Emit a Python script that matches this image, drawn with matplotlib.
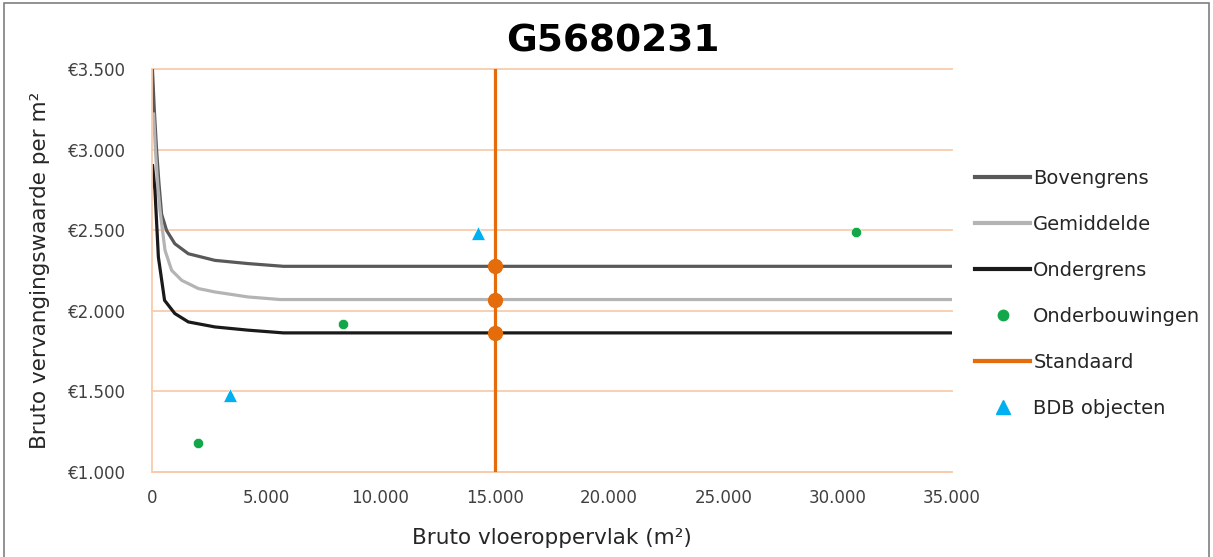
import matplotlib.pyplot as plt
from matplotlib import font_manager
from matplotlib.patches import Rectangle
from matplotlib.lines import Line2D
from matplotlib.ticker import FuncFormatter

# %% DATA
bov_x = [20, 100, 200, 300, 420, 640, 1000, 1590, 2750, 4200, 5750, 15000, 35000]
bovengrens = [3500, 3250, 3000, 2800, 2600, 2498, 2416, 2354, 2313, 2293, 2276, 2276, 2276]

gem_x = [70, 150, 250, 350, 570, 860, 1300, 2030, 2750, 4200, 5600, 15000, 35000]
gemiddelde = [3221, 3000, 2780, 2623, 2375, 2251, 2189, 2138, 2117, 2086, 2070, 2070, 2070]

ond_x = [26, 130, 280, 550, 1000, 1590, 2750, 4200, 5750, 15000, 35000]
ondergrens = [2900, 2747, 2333, 2065, 1983, 1931, 1900, 1880, 1863, 1863, 1863]

onderbouw_x = [2000, 8350, 30800]
onderbouw_y = [1180, 1917, 2486]

bdb_x = [3430, 14250]
bdb_y = [1480, 2480]

standaard_x = 15000
standaard_y = [2276, 2070, 1863]

title = "G5680231"
xlabel = "Bruto vloeroppervlak (m\u00b2)"
ylabel = "Bruto vervangingswaarde per m\u00b2"


def dutch(v, pos=None):
    return f"{int(round(v)):,}".replace(",", ".")


# narrow font for the title if there is one
names = {f.name for f in font_manager.fontManager.ttflist}
if 'Liberation Sans Narrow' in names:
    title_font, title_size = 'Liberation Sans Narrow', 37
elif 'DejaVu Sans Condensed' in names:
    title_font, title_size = 'DejaVu Sans Condensed', 30
else:
    title_font, title_size = 'DejaVu Sans', 27

# %% FIGURE
fig = plt.figure(figsize=(12.13, 5.57), dpi=100)
ax = fig.add_axes([0.1253, 0.1526, 0.6595, 0.7235])

grid_c = '#f8cbad'
c_bov = '#595959'
c_gem = '#b4b4b4'
c_ond = '#1a1a1a'
c_green = '#12a84a'
c_orange = '#e46c0a'
c_blue = '#00b0f0'

ax.plot(bov_x, bovengrens, color=c_bov, lw=2.3, solid_joinstyle='round')
ax.plot(gem_x, gemiddelde, color=c_gem, lw=2.3, solid_joinstyle='round')
ax.plot(ond_x, ondergrens, color=c_ond, lw=2.3, solid_joinstyle='round')

ax.plot([standaard_x, standaard_x], [1000, 3500], color=c_orange, lw=2.3, zorder=4)
ax.plot([standaard_x] * len(standaard_y), standaard_y, 'o', color=c_orange,
        ms=10, zorder=5)

ax.plot(onderbouw_x, onderbouw_y, 'o', color=c_green, ms=7.5, mec='white', mew=0.5, zorder=5)
ax.plot(bdb_x, bdb_y, '^', color=c_blue, ms=10, mec='white', mew=0.5, zorder=5)

ax.set_xlim(0, 35000)
ax.set_ylim(1000, 3500)
ax.set_xticks(range(0, 35001, 5000))
ax.set_yticks(range(1000, 3501, 500))
ax.xaxis.set_major_formatter(FuncFormatter(dutch))
ax.yaxis.set_major_formatter(FuncFormatter(lambda v, p: "\u20ac" + dutch(v)))
ax.tick_params(length=0, labelsize=12, colors='#404040')
ax.tick_params(axis='x', pad=12)
ax.tick_params(axis='y', pad=19)
ax.grid(axis='y', color=grid_c, lw=1.3)
for gl in ax.get_ygridlines():
    gl.set_clip_on(False)
ax.set_axisbelow(True)
for s in ['top', 'right']:
    ax.spines[s].set_visible(False)
for s in ['left', 'bottom']:
    ax.spines[s].set_color(grid_c)
    ax.spines[s].set_linewidth(1.3)
ax.set_xlabel(xlabel, fontsize=15.5, color='#262626', labelpad=15)
ax.set_ylabel(ylabel, fontsize=15.5, color='#262626', labelpad=13)

fig.text(0.505, 0.925, title, ha='center', va='center', fontsize=title_size,
         fontweight='bold', family=title_font)

# %% LEGEND
handles = [
    Line2D([], [], color=c_bov, lw=3),
    Line2D([], [], color=c_gem, lw=3),
    Line2D([], [], color=c_ond, lw=3),
    Line2D([], [], color=c_green, marker='o', ls='none', ms=7.5),
    Line2D([], [], color=c_orange, lw=3),
    Line2D([], [], color=c_blue, marker='^', ls='none', ms=10),
]
labels = ["Bovengrens", "Gemiddelde", "Ondergrens", "Onderbouwingen",
          "Standaard", "BDB objecten"]
leg = fig.legend(handles, labels, loc='upper left', bbox_to_anchor=(0.8038, 0.697),
                 frameon=False, fontsize=14, handlelength=2.85, handletextpad=0.15,
                 labelspacing=1.39, borderaxespad=0, borderpad=0)
for t in leg.get_texts():
    t.set_color('#262626')

# figure border
fig.patches.append(Rectangle((0.003, -0.01), 0.994, 1.004, transform=fig.transFigure,
                             fill=False, ec='#7f7f7f', lw=1.2))

fig.savefig('out.png', dpi=100)
